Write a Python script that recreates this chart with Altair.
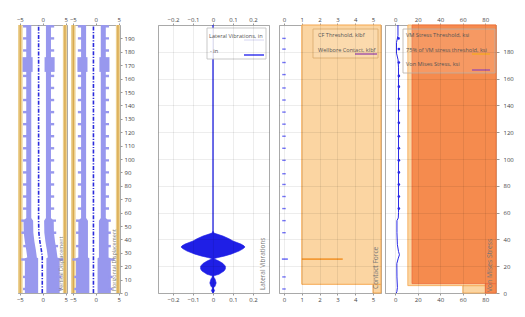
import altair as alt
import pandas as pd

# ---------------- shared depth axis ----------------
DEPTH_DOMAIN = [0, 200]
depth_ticks_10 = [0, 10, 20, 30, 40, 50, 60, 70, 80, 90, 100, 110, 120, 130, 140, 150, 160, 170, 180, 190]
depth_ticks_20 = [0, 20, 40, 60, 80, 100, 120, 140, 160, 180]

# ---------------- panels 1-2 : drill string inside wellbore ----------------
disp_ticks = [-5, 0, 5]
disp_domain = [-5.4, 5.3]
wall_left = [-5.4, -4.4]
wall_right = [4.4, 5.3]
wall_line = [-4.9, 4.85]

disp_depth = [200, 56, 54, 45, 38, 32, 27, 26.5, 26, 0]
v_center = [-0.9, -0.9, -0.9, -0.85, -0.6, -0.3, -0.1, -0.1, -0.1, -0.1]
h_center = [-0.5, -0.5, -0.5, -0.5, -0.5, -0.5, -0.5, -0.5, -0.5, -0.5]
pipe_inner = [1.6, 1.6, 1.2, 1.2, 1.2, 1.2, 1.2, 1.2, 0.9, 0.9]
pipe_outer = [2.7, 2.7, 3.3, 3.3, 3.3, 3.3, 3.3, 3.3, 3.8, 3.8]

jt_depth = [3, 12, 25, 35, 45, 54, 63, 72, 81, 90, 99, 108, 117, 126, 135, 144, 153, 162, 181, 190, 199]
jt_v_center = [-0.1, -0.1, -0.1, -0.45, -0.85, -0.9, -0.9, -0.9, -0.9, -0.9, -0.9,
               -0.9, -0.9, -0.9, -0.9, -0.9, -0.9, -0.9, -0.9, -0.9, -0.9]
jt_h_center = [-0.5, -0.5, -0.5, -0.5, -0.5, -0.5, -0.5, -0.5, -0.5, -0.5, -0.5,
               -0.5, -0.5, -0.5, -0.5, -0.5, -0.5, -0.5, -0.5, -0.5, -0.5]
jt_reach = [4.2, 4.2, 4.6, 3.8, 3.8, 3.8, 3.4, 3.4, 3.4, 3.4, 3.4,
            3.4, 3.4, 3.4, 3.4, 3.4, 3.4, 3.4, 3.4, 3.4, 3.4]

collar_lo = [165]
collar_hi = [176]
collar_inner = [1.3]
collar_outer = [3.5]
collar_v_center = [-0.9]
collar_h_center = [-0.5]

# ---------------- panel 3 : lateral vibrations ----------------
vib_ticks = [-0.2, -0.1, 0, 0.1, 0.2]
vib_domain = [-0.275, 0.28]
vib_depth = [46, 44.7, 42.5, 40.5, 38.8, 36.5, 35.2, 34.3, 33, 31.3, 29, 27.5, 26.3, 25.6,
             23.8, 22, 20, 18, 16.4, 14, 12.8, 12, 10.5, 7.5, 5, 3.8, 3, 1.8, 1, 0]
vib_amp = [0.0, 0.005, 0.05, 0.08, 0.1, 0.14, 0.155, 0.16, 0.15, 0.13, 0.09, 0.055, 0.02, 0.004,
           0.03, 0.05, 0.062, 0.062, 0.055, 0.03, 0.004, 0.003, 0.01, 0.016, 0.01, 0.002, 0.004, 0.008, 0.005, 0.0]
vib_line_x = [0]

# ---------------- panel 4 : contact force ----------------
cf_ticks = [0, 1, 2, 3, 4, 5]
cf_domain = [-0.28, 5.45]
cf_thr_lo = [0, 6.5]
cf_thr_hi = [6.5, 200]
cf_thr = [5, 1]
cf_depth = [3, 12, 45, 54, 63, 72, 81, 89, 99, 108, 117, 126, 135, 144, 153, 163, 172, 182, 190]
cf_val = [0.0, 0.0, 0.0, 0.0, 0.0, 0.0, 0.0, 0.0, 0.0, 0.0, 0.0, 0.0, 0.0, 0.0, 0.0, 0.0, 0.0, 0.0, 0.0]
cf_big_depth = [25.3]
cf_big_val = [0.05]
wc_depth = [25.3]
wc_from = [1.0]
wc_to = [3.3]

# ---------------- panel 5 : von Mises stress ----------------
vm_ticks = [0, 20, 40, 60, 80]
vm_domain = [-9, 89.5]
vm_thr_lo = [0, 7]
vm_thr_hi = [7, 200]
vm_thr = [80, 15]
vm75_lo = [0, 5.5]
vm75_hi = [5.5, 200]
vm75 = [60, 11.25]
vm_depth = [200, 192, 187, 179, 174, 168, 160, 100, 60, 56, 54, 45, 36, 31, 28.5, 26, 22, 12, 4, 1, 0]
vm_val = [2.5, 2.5, 1.2, 1.2, 2.6, 3.0, 3.0, 3.0, 3.0, 2.8, 1.6, 1.6, 2.0, 3.0, 3.8, 2.8, 1.5, 1.6, 2.0, 1.5, 1.0]
vm_jt_depth = [63, 72, 81, 90, 99, 108, 117, 127, 136, 145, 154, 162, 172, 182, 190]
vm_jt_val = [3.3, 3.3, 3.3, 3.3, 3.3, 3.3, 3.3, 3.3, 3.3, 3.3, 3.3, 3.3, 3.3, 3.3, 3.0]

# ---------------- styling ----------------
H = 268
W_DISP = 49
W_VIB = 111
W_CF = 102
W_VM = 111
FONT = "Open Sans"
TAN = "#ecd193"
TAN_LINE = "#d9a94e"
PIPE = "#9898ee"
CENTER = "#2b2bdc"
BLUE = "#1f1fe6"
ORANGE_LIGHT = "#fbd5a2"
ORANGE_EDGE = "#f5a74f"
ORANGE_DARK = "#f58b4e"
PURPLE = "#a04fa8"
LABEL = "#777777"
JT_HALF = 0.9
JT_W = 1.0

ONE = pd.DataFrame({"k": [0]})


def ys():
    return alt.Scale(domain=DEPTH_DOMAIN, nice=False, zero=False)


def xs(dom):
    return alt.Scale(domain=dom, nice=False, zero=False)


def axis_layers(dom, ticks, grid=False, right_vals=None, right_pad=2, right_tick=2):
    df = pd.DataFrame({"ax": [dom[0], dom[1]], "ay": DEPTH_DOMAIN})
    out = []
    for orient in ["top", "bottom"]:
        out.append(alt.Chart(df).mark_point(opacity=0).encode(
            x=alt.X("ax:Q", scale=xs(dom), axis=alt.Axis(orient=orient, values=ticks, title=None,
                                                          grid=False, format="~f")),
            y=alt.Y("ay:Q", scale=ys(), axis=None)))
    if right_vals is not None:
        out.append(alt.Chart(df).mark_point(opacity=0).encode(
            x=alt.X("ax:Q", scale=xs(dom), axis=None),
            y=alt.Y("ay:Q", scale=ys(), axis=alt.Axis(orient="right", values=right_vals, title=None,
                                                      grid=False, domain=False, labelPadding=right_pad,
                                                      tickSize=right_tick))))
    if grid:
        out.append(alt.Chart(df).mark_point(opacity=0).encode(
            x=alt.X("ax:Q", scale=xs(dom), axis=alt.Axis(values=ticks, title=None, grid=True, labels=False,
                                                          ticks=False, domain=False, gridColor="#000",
                                                          gridOpacity=0.07, zindex=1)),
            y=alt.Y("ay:Q", scale=ys(), axis=alt.Axis(values=depth_ticks_20[1:], title=None, grid=True,
                                                      labels=False, ticks=False, domain=False,
                                                      gridColor="#000", gridOpacity=0.07, zindex=1))))
    return out


def rot_label(text, x, y, size):
    return alt.Chart(ONE).mark_text(text=text, angle=270, align="left", baseline="bottom",
                                    fontSize=size, color=LABEL, font=FONT).encode(
        x=alt.value(x), y=alt.value(y))


def box(x0, x1, y0, y1, fill="#ffffff", fill_op=0.25, stroke="#b9ad9c"):
    return alt.Chart(ONE).mark_rect(fill=fill, fillOpacity=fill_op, stroke=stroke, strokeWidth=0.8).encode(
        x=alt.value(x0), x2=alt.value(x1), y=alt.value(y0), y2=alt.value(y1))


def ltext(text, x, y, size=5.6, color="#555555"):
    return alt.Chart(ONE).mark_text(text=text, align="left", baseline="middle", fontSize=size,
                                    color=color, font=FONT).encode(x=alt.value(x), y=alt.value(y))


def lline(x0, x1, y, color, w=1.6):
    return alt.Chart(ONE).mark_rule(color=color, strokeWidth=w).encode(
        x=alt.value(x0), x2=alt.value(x1), y=alt.value(y))


def disp_panel(center, jt_center, collar_center, label, label_x, right_axis):
    dom = disp_domain
    pipe = pd.DataFrame({"depth": disp_depth, "c": center, "ri": pipe_inner, "ro": pipe_outer})
    pipe["ll"] = pipe.c - pipe.ro
    pipe["lr"] = pipe.c - pipe.ri
    pipe["rl"] = pipe.c + pipe.ri
    pipe["rr"] = pipe.c + pipe.ro
    walls = pd.DataFrame({"x0": [wall_left[0], wall_right[0]], "x1": [wall_left[1], wall_right[1]],
                          "y0": [DEPTH_DOMAIN[0]] * 2, "y1": [DEPTH_DOMAIN[1]] * 2, "wl": wall_line})
    jt = pd.DataFrame({"d": jt_depth, "c": jt_center, "r": jt_reach})
    jt["y0"] = jt.d - JT_HALF
    jt["y1"] = jt.d + JT_HALF
    jt["a0"] = jt.c - jt.r
    jt["a1"] = jt.c - jt.r + JT_W
    jt["b0"] = jt.c + jt.r - JT_W
    jt["b1"] = jt.c + jt.r
    col = pd.DataFrame({"lo": collar_lo, "hi": collar_hi, "c": collar_center, "ri": collar_inner,
                        "ro": collar_outer})
    col["a0"] = col.c - col.ro
    col["a1"] = col.c - col.ri
    col["b0"] = col.c + col.ri
    col["b1"] = col.c + col.ro

    X = lambda f: alt.X(f, type="quantitative", scale=xs(dom), axis=None)
    Y = lambda f: alt.Y(f, type="quantitative", scale=ys(), axis=None)

    layers = [
        alt.Chart(walls).mark_rect(color=TAN).encode(x=X("x0"), x2="x1", y=Y("y0"), y2="y1"),
        alt.Chart(walls).mark_rule(color=TAN_LINE, strokeWidth=1.4).encode(x=X("wl"), y=Y("y0"), y2="y1"),
        alt.Chart(pipe).mark_area(orient="horizontal", color=PIPE).encode(x=X("ll"), x2="lr", y=Y("depth")),
        alt.Chart(pipe).mark_area(orient="horizontal", color=PIPE).encode(x=X("rl"), x2="rr", y=Y("depth")),
        alt.Chart(jt).mark_rect(color=PIPE).encode(x=X("a0"), x2="a1", y=Y("y0"), y2="y1"),
        alt.Chart(jt).mark_rect(color=PIPE).encode(x=X("b0"), x2="b1", y=Y("y0"), y2="y1"),
        alt.Chart(col).mark_rect(color=PIPE).encode(x=X("a0"), x2="a1", y=Y("lo"), y2="hi"),
        alt.Chart(col).mark_rect(color=PIPE).encode(x=X("b0"), x2="b1", y=Y("lo"), y2="hi"),
        alt.Chart(pipe).mark_line(color=CENTER, strokeWidth=1.6, strokeDash=[4, 1.5, 1.2, 1.5]).encode(
            x=X("c"), y=Y("depth"), order="depth:Q"),
        rot_label(label, label_x, H - 2, 5.4),
    ]
    layers += axis_layers(dom, disp_ticks, right_vals=depth_ticks_10 if right_axis else None,
                          right_pad=2, right_tick=2)
    return alt.layer(*layers).resolve_axis(x="independent", y="independent").properties(width=W_DISP, height=H)


def spacer(w):
    return alt.Chart(ONE).mark_point(opacity=0).properties(
        width=w, height=H, view=alt.ViewConfig(strokeOpacity=0))


# ---- panel 3
vib = pd.DataFrame({"depth": vib_depth, "amp": vib_amp})
vib["neg"] = -vib.amp
vline = pd.DataFrame({"x": vib_line_x, "y0": [DEPTH_DOMAIN[0]], "y1": [DEPTH_DOMAIN[1]]})
XV = lambda f: alt.X(f, type="quantitative", scale=xs(vib_domain), axis=None)
YD = lambda f: alt.Y(f, type="quantitative", scale=ys(), axis=None)
p3_layers = [
    alt.Chart(vib).mark_area(orient="horizontal", color=BLUE, stroke=BLUE, strokeWidth=0.6).encode(
        x=XV("neg"), x2="amp", y=YD("depth")),
    alt.Chart(vline).mark_rule(color=BLUE, strokeWidth=1.3).encode(x=XV("x"), y=YD("y0"), y2="y1"),
    rot_label("Lateral Vibrations", 108, H - 3, 6.4),
    box(49, 108, 3, 34, fill="#ffffff", fill_op=0.9, stroke="#bbbbbb"),
    ltext("Lateral Vibrations, in", 51, 11, 5.6),
    lline(86, 106, 15, "#d6d6f2", 1),
    ltext("- in", 52, 26, 5.6),
    lline(86, 106, 30, "#5b5bf2", 1.8),
]
p3_layers += axis_layers(vib_domain, vib_ticks, grid=True)
p3 = alt.layer(*p3_layers).resolve_axis(x="independent", y="independent").properties(width=W_VIB, height=H)

# ---- panel 4
cft = pd.DataFrame({"lo": cf_thr_lo, "hi": cf_thr_hi, "x0": cf_thr, "x1": [cf_domain[1]] * 2})
cfj = pd.DataFrame({"d": cf_depth, "v": cf_val})
cfb = pd.DataFrame({"d": cf_big_depth, "v": cf_big_val})
wc = pd.DataFrame({"d": wc_depth, "a": wc_from, "b": wc_to})
XC = lambda f: alt.X(f, type="quantitative", scale=xs(cf_domain), axis=None)
p4_layers = [
    alt.Chart(cft).mark_rect(fill=ORANGE_LIGHT, stroke=ORANGE_EDGE, strokeWidth=1).encode(
        x=XC("x0"), x2="x1", y=YD("lo"), y2="hi"),
    alt.Chart(wc).mark_rule(color="#f39a36", strokeWidth=1.8).encode(x=XC("a"), x2="b", y=YD("d")),
    alt.Chart(cfj).mark_tick(orient="horizontal", color="#3b3bf5", size=3.5, thickness=1.4).encode(
        x=XC("v"), y=YD("d")),
    alt.Chart(cfb).mark_tick(orient="horizontal", color="#3b3bf5", size=6, thickness=1.6).encode(
        x=XC("v"), y=YD("d")),
    rot_label("Contact Force", 100, H - 4, 6.6),
    box(34, 99, 4, 33, fill="#ffffff", fill_op=0.12, stroke="#d9a86a"),
    ltext("CF Threshold, klbf", 39, 10),
    ltext("Wellbore Contact, klbf", 39, 25),
    lline(76, 98, 29, PURPLE, 1.4),
]
p4_layers += axis_layers(cf_domain, cf_ticks, grid=True)
p4 = alt.layer(*p4_layers).resolve_axis(x="independent", y="independent").properties(width=W_CF, height=H)

# ---- panel 5
v75 = pd.DataFrame({"lo": vm75_lo, "hi": vm75_hi, "x0": vm75, "x1": [vm_domain[1]] * 2})
v100 = pd.DataFrame({"lo": vm_thr_lo, "hi": vm_thr_hi, "x0": vm_thr, "x1": [vm_domain[1]] * 2})
vml = pd.DataFrame({"d": vm_depth, "v": vm_val})
vmj = pd.DataFrame({"d": vm_jt_depth, "v": vm_jt_val})
XM = lambda f: alt.X(f, type="quantitative", scale=xs(vm_domain), axis=None)
p5_layers = [
    alt.Chart(v75).mark_rect(fill=ORANGE_LIGHT, stroke=ORANGE_EDGE, strokeWidth=0.8).encode(
        x=XM("x0"), x2="x1", y=YD("lo"), y2="hi"),
    alt.Chart(v100).mark_rect(fill=ORANGE_DARK, stroke="#ee6a3c", strokeWidth=0.8).encode(
        x=XM("x0"), x2="x1", y=YD("lo"), y2="hi"),
    alt.Chart(vml).mark_line(color="#2a2ae6", strokeWidth=1).encode(x=XM("v"), y=YD("d"), order="d:Q"),
    alt.Chart(vmj).mark_point(filled=True, color="#2a2ae6", size=7, opacity=1).encode(x=XM("v"), y=YD("d")),
    rot_label("Von Mises Stress", 108, H - 1, 6.8),
    box(18, 110, 4, 48, fill="#ffffff", fill_op=0.12, stroke="#b8b0a8"),
    ltext("VM Stress Threshold, ksi", 21, 10),
    ltext("75% of VM stress threshold, ksi", 21, 25),
    lline(87, 105, 29, "#f5a623", 1.4),
    ltext("Von Mises Stress, ksi", 21, 39),
    lline(87, 105, 45, PURPLE, 1.4),
]
p5_layers += axis_layers(vm_domain, vm_ticks, grid=True, right_vals=depth_ticks_20, right_pad=4, right_tick=3)
p5 = alt.layer(*p5_layers).resolve_axis(x="independent", y="independent").properties(width=W_VM, height=H)

p1 = disp_panel(v_center, jt_v_center, collar_v_center, "Vertical Displacement", 46, False)
p2 = disp_panel(h_center, jt_h_center, collar_h_center, "Horizontal Displacement", 46, True)

chart = alt.hconcat(p1, spacer(4), p2, spacer(38), p3, spacer(10), p4, spacer(4), p5,
                    spacing=0, bounds="flush").properties(
    padding={"left": 14, "top": 15, "right": 5, "bottom": 5},
    background="white",
).configure(font=FONT).configure_view(stroke="#a9a9a9", strokeWidth=1).configure_axis(
    labelFont=FONT, labelFontSize=6, labelColor="#444444", tickColor="#999999", domainColor="#a9a9a9",
    tickSize=2, labelPadding=1,
)

chart.save("out.html", embed_options={"renderer": "svg", "actions": False})
